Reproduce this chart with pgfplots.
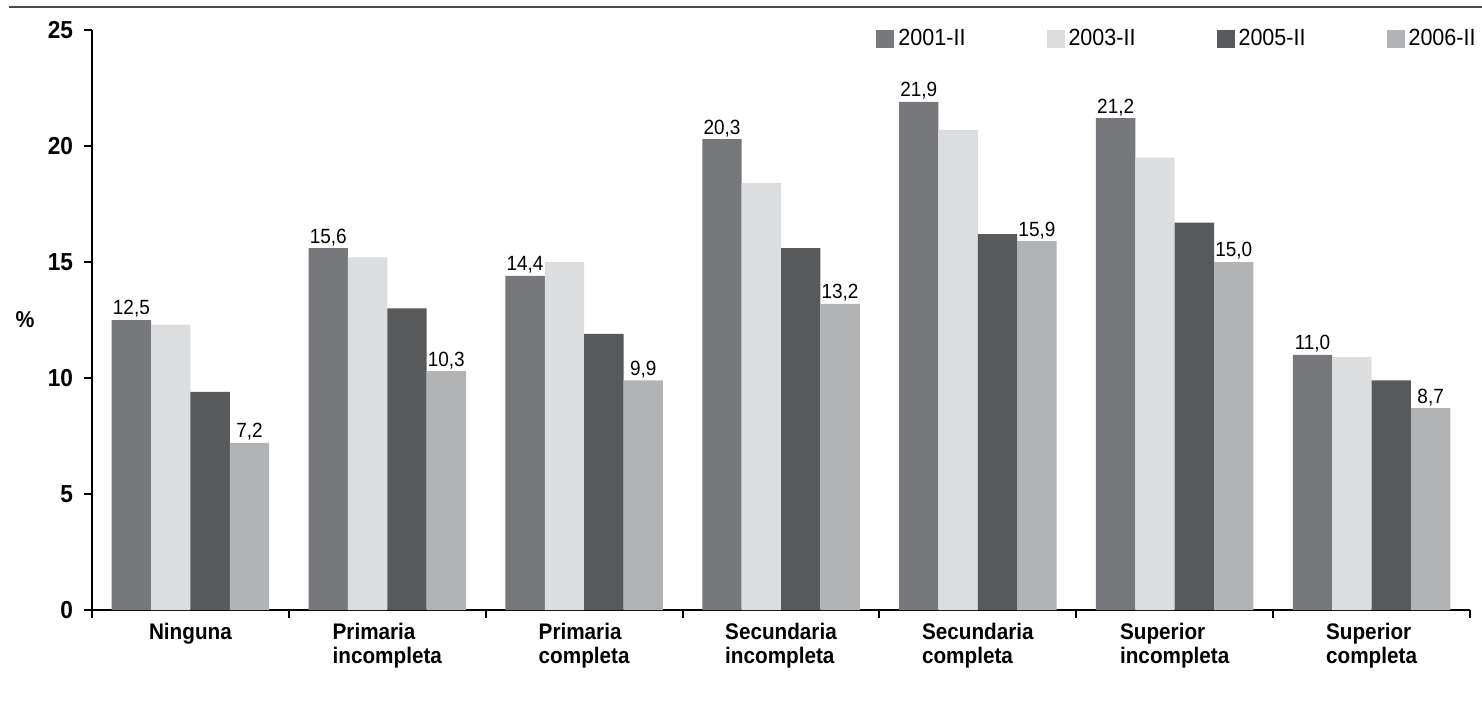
\documentclass[border=0pt]{standalone}
\usepackage{fontspec}
\setmainfont{Liberation Sans}[FakeStretch=0.92]
\usepackage{pgfplots}
\pgfplotsset{compat=1.18}

\definecolor{cA}{HTML}{77787B}
\definecolor{cB}{HTML}{DCDDDF}
\definecolor{cC}{HTML}{58595B}
\definecolor{cD}{HTML}{B1B3B5}
\definecolor{rule}{HTML}{4A4A4A}

\begin{document}
\begin{tikzpicture}
\useasboundingbox (-46bp,-48bp) rectangle (695bp,305bp);
\draw[rule, line width=1.3bp] (-41.5bp,301.5bp) -- (700bp,301.5bp);
\begin{axis}[
    at={(0,0)}, anchor=south west,
    scale only axis,
    width=689bp, height=290bp,
    ybar=0pt,
    bar width=0.2,
    xmin=-0.5, xmax=6.5,
    ymin=0, ymax=25,
    ytick={0,5,10,15,20,25},
    xtick={-0.5,0.5,...,6.5},
    x tick label as interval,
    xticklabels={Ninguna,{Primaria\\incompleta},{Primaria\\completa},{Secundaria\\incompleta},{Secundaria\\completa},{Superior\\incompleta},{Superior\\completa}},
    xticklabel style={font=\fontsize{11.25bp}{12bp}\selectfont\bfseries, align=left, yshift=1bp},
    yticklabel style={font=\fontsize{12.3bp}{13bp}\selectfont\bfseries, xshift=-2bp},
    /pgf/number format/assume math mode=true,
    axis x line=bottom, axis y line=left,
    axis line style={-, line width=1bp, black},
    tick align=outside,
    major tick length=4bp,
    tick style={line width=1bp, black},
    ylabel={\%},
    ylabel style={rotate=-90, at={(axis description cs:-0.0486,0.5)}, anchor=center, font=\fontsize{11.5bp}{13bp}\selectfont\bfseries},
    legend columns=4,
    legend style={at={(0.569,0.9845)}, anchor=west, draw=none, fill=none,
        inner sep=0pt, font=\fontsize{11.7bp}{13bp}\selectfont,
        /tikz/every even column/.append style={column sep=38.5bp},
        nodes={inner xsep=2bp}},
    legend image code/.code={\fill[#1] (0bp,-4.5bp) rectangle (9bp,4.5bp);},
    every node near coord/.append style={font=\fontsize{10.3bp}{11bp}\selectfont, inner sep=1bp, black},
]
\addplot[fill=cA, draw=none, bar shift=-0.3,
    nodes near coords={\pgfmathprintnumber[fixed,fixed zerofill,precision=1,use comma]{\pgfplotspointmeta}}]
    coordinates {(0,12.5) (1,15.6) (2,14.4) (3,20.3) (4,21.9) (5,21.2) (6,11.0)};
\addplot[fill=cB, draw=none, bar shift=-0.1]
    coordinates {(0,12.3) (1,15.2) (2,15.0) (3,18.4) (4,20.7) (5,19.5) (6,10.9)};
\addplot[fill=cC, draw=none, bar shift=0.1]
    coordinates {(0,9.4) (1,13.0) (2,11.9) (3,15.6) (4,16.2) (5,16.7) (6,9.9)};
\addplot[fill=cD, draw=none, bar shift=0.3,
    nodes near coords={\pgfmathprintnumber[fixed,fixed zerofill,precision=1,use comma]{\pgfplotspointmeta}}]
    coordinates {(0,7.2) (1,10.3) (2,9.9) (3,13.2) (4,15.9) (5,15.0) (6,8.7)};
\legend{2001-II,2003-II,2005-II,2006-II}
\end{axis}
\end{tikzpicture}
\end{document}
